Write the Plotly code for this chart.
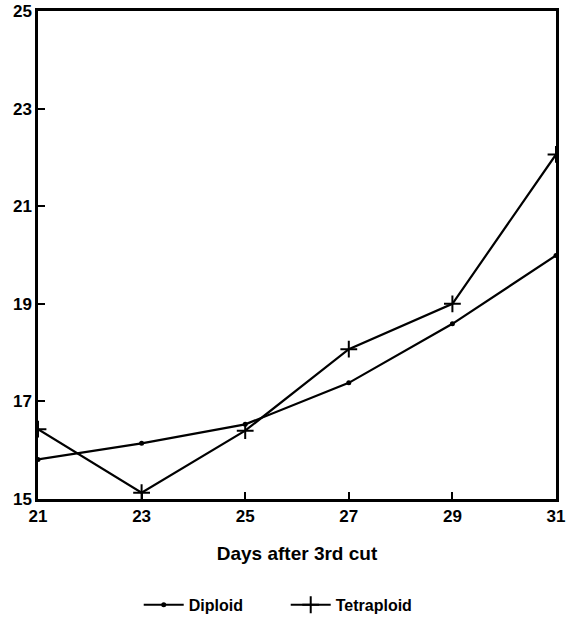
import plotly.graph_objects as go

days = [21, 23, 25, 27, 29, 31]
diploid = [15.81, 16.14, 16.53, 17.38, 18.59, 19.99]
tetraploid = [16.43, 15.13, 16.40, 18.07, 19.0, 22.06]
xticks = [21, 23, 25, 27, 29, 31]
yticks = [15, 17, 19, 21, 23, 25]

fig = go.Figure()
fig.add_trace(go.Scatter(x=days, y=diploid, name="<b>Diploid</b>", mode="lines+markers",
                         line=dict(color="black", width=2.2),
                         marker=dict(symbol="circle", size=5, color="black")))
fig.add_trace(go.Scatter(x=days, y=tetraploid, name="<b>Tetraploid</b>", mode="lines+markers",
                         line=dict(color="black", width=2.2),
                         marker=dict(symbol="cross-thin", size=12,
                                     line=dict(color="black", width=2))))

font = dict(family="Liberation Sans, Arial, sans-serif", color="black")
fig.update_layout(
    width=578, height=621, autosize=False,
    margin=dict(l=38, r=22, t=11, b=122),
    plot_bgcolor="white", paper_bgcolor="white",
    font=font,
    showlegend=True,
    legend=dict(orientation="h", xref="container", yref="container",
                x=0.24, xanchor="left", y=0.026, yanchor="middle",
                font=dict(size=16, family="Liberation Sans, Arial, sans-serif", color="black"),
                itemwidth=40, entrywidth=92, entrywidthmode="pixels", tracegroupgap=0),
    xaxis=dict(range=[21, 31], tickvals=xticks, ticktext=[f"<b>{t}</b>" for t in xticks],
               ticks="inside", ticklen=7, tickwidth=2, tickcolor="black",
               showline=True, linecolor="black", linewidth=2.5, mirror=True,
               showgrid=False, zeroline=False, automargin=False,
               tickfont=dict(size=17), title=dict(text="<b>Days after 3rd cut</b>",
                                                  font=dict(size=19), standoff=22)),
    yaxis=dict(range=[15, 25], tickvals=yticks, ticktext=[f"<b>{t}</b>" for t in yticks],
               ticks="inside", ticklen=7, tickwidth=2, tickcolor="black",
               showline=True, linecolor="black", linewidth=2.5, mirror=True,
               showgrid=False, zeroline=False, automargin=False, tickfont=dict(size=17)),
)
fig.write_html("out.html", config={"displayModeBar": False, "responsive": False},
               post_script="document.body.style.margin='0';")
